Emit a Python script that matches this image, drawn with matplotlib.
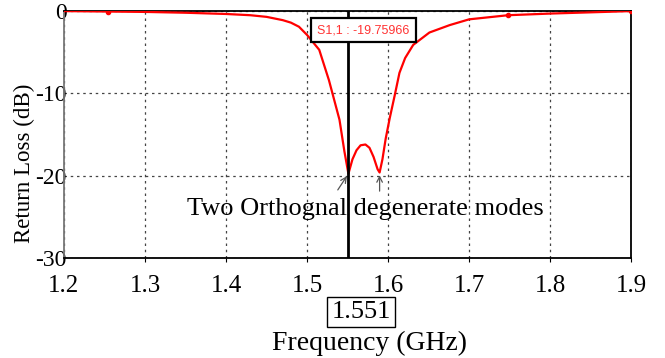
import numpy as np
import matplotlib
matplotlib.use("Agg")
import matplotlib.pyplot as plt

plt.rcParams["axes.unicode_minus"] = False

# S11 response
freq_ghz = [1.20, 1.25, 1.30, 1.35, 1.40, 1.43, 1.45, 1.47, 1.48, 1.49,
            1.50, 1.515, 1.527, 1.540, 1.546, 1.551, 1.556, 1.561, 1.566,
            1.572, 1.577, 1.582, 1.587, 1.5895, 1.593, 1.597, 1.602, 1.608,
            1.614, 1.621, 1.631, 1.651, 1.676, 1.70, 1.748, 1.80, 1.85, 1.90]
s11_db = [0.0, -0.05, -0.1, -0.2, -0.35, -0.5, -0.7, -1.1, -1.4, -1.9,
          -2.9, -4.7, -8.4, -13.2, -17.0, -19.76, -18.0, -16.9, -16.3,
          -16.2, -16.6, -17.7, -19.2, -19.6, -18.0, -15.5, -13.0, -10.3,
          -7.5, -5.7, -4.1, -2.6, -1.7, -1.0, -0.5, -0.3, -0.15, 0.0]
marker_freq = [1.254, 1.748, 1.90]
marker_readout = 1.551
marker_value = -19.75966
dip_freqs = [1.551, 1.5895]
dip_values = [-19.76, -19.6]

xticks = [1.2, 1.3, 1.4, 1.5, 1.6, 1.7, 1.8, 1.9]
yticks = [0, -10, -20, -30]

serif = "Liberation Serif"

fig = plt.figure(figsize=(6.65, 3.58), dpi=100)
ax = fig.add_axes([0.0962, 0.279, 0.853, 0.690])

ax.plot(freq_ghz, s11_db, color="#ff0000", linewidth=1.6, zorder=3)
ax.plot(marker_freq, np.interp(marker_freq, freq_ghz, s11_db), "o",
        color="#ff0000", markersize=3, zorder=4)
ax.axvline(marker_readout, color="black", linewidth=2, zorder=4)

ax.set_xlim(1.2, 1.9)
ax.set_ylim(-30, 0)
ax.set_xticks(xticks)
ax.set_yticks(yticks)
ax.set_xticklabels([f"{v:.1f}" for v in xticks], family=serif, fontsize=18)
ax.set_yticklabels([str(v) for v in yticks], family=serif, fontsize=17)
ax.tick_params(axis="x", direction="out", length=3, pad=9, color="black")
ax.tick_params(axis="y", length=0, pad=-2)
ax.grid(True, color="#444444", linestyle=(0, (2, 3)), linewidth=0.9)
for side in ["top", "bottom", "right"]:
    ax.spines[side].set_linewidth(1.3)
ax.spines["left"].set_color("#777777")
ax.spines["left"].set_linewidth(1.3)

ax.text(1.5696, -2.3, f"S1,1 : {marker_value:.5f}", color="#ff3333",
        family="Liberation Sans", fontsize=9, ha="center", va="center",
        zorder=6,
        bbox=dict(boxstyle="square,pad=0.5", facecolor="white",
                  edgecolor="black", linewidth=1.6))

ax.text(1.5715, -24.0, "Two Orthognal degenerate modes", family=serif,
        fontsize=19, ha="center", va="center", zorder=5)
ax.annotate("", xy=(dip_freqs[0], dip_values[0]), xytext=(1.536, -22.0),
            arrowprops=dict(arrowstyle="->", color="#555555", lw=0.9))
ax.annotate("", xy=(dip_freqs[1], dip_values[1]), xytext=(dip_freqs[1], -22.2),
            arrowprops=dict(arrowstyle="->", color="#555555", lw=0.9))

fig.text(361 / 665, 1 - 312 / 358, f"{marker_readout:.3f}", family=serif,
         fontsize=19, ha="center", va="center",
         bbox=dict(boxstyle="square,pad=0.15", facecolor="white",
                   edgecolor="black", linewidth=1.0))
fig.text(369 / 665, 1 - 343 / 358, "Frequency (GHz)", family=serif,
         fontsize=20, ha="center", va="center")
fig.text(24 / 665, 1 - 163 / 358, "Return Loss (dB)", family=serif,
         fontsize=16.5, ha="center", va="center", rotation=90)

fig.savefig("out.png", dpi=100)
